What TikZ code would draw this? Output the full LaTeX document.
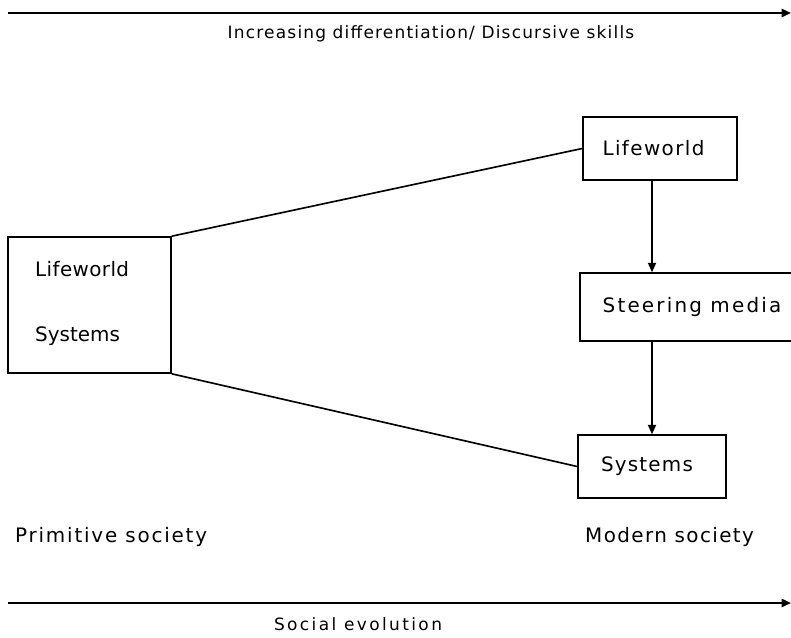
\documentclass[tikz,border=0pt]{standalone}
\usepackage{fontspec}
\setmainfont{DejaVu Sans}
\usetikzlibrary{arrows.meta}
\begin{document}
\begin{tikzpicture}[x=0.03cm,y=-0.03cm,
  box/.style={draw,line width=1.4pt,inner sep=0pt},
  lbl/.style={font={\fontsize{17}{20}\selectfont\addfontfeature{LetterSpace=#1}},inner sep=0pt},
  lbl/.default=0,
  axislbl/.style={font={\fontsize{14.5}{17}\selectfont\addfontfeature{LetterSpace=#1}},inner sep=0pt},
  axis/.style={line width=1.8pt,-{Triangle[length=8pt,width=7pt]}},
  link/.style={line width=1.4pt},
  flow/.style={line width=1.1pt,-{Triangle[length=8pt,width=7pt]}}]
\useasboundingbox[fill=white] (0,0) rectangle (791,637);

% evolution axes
\coordinate (t0) at (8,13);
\coordinate (t1) at (791,13);
\coordinate (b0) at (8,603);
\coordinate (b1) at (791,603);
\draw[axis] (t0) -- (t1);
\draw[axis] (b0) -- (b1);
\node[axislbl=7] (toplbl) at (431,34) {Increasing differentiation/ Discursive skills};
\node[axislbl=14] (botlbl) at (358,624) {Social evolution};

% primitive society
\node[box,minimum width=163*0.03cm,minimum height=136*0.03cm] (prim) at (89.5,305) {};
\node[lbl=2,anchor=west] (plw) at (35,269) {Lifeworld};
\node[lbl=0,anchor=west] (psys) at (35,336) {Systems};

% modern society
\node[box,minimum width=154*0.03cm,minimum height=63*0.03cm] (lw) at (660,148.5) {};
\node[lbl=7] (lwt) at (653.5,148.5) {Lifeworld};
\node[box,minimum width=213*0.03cm,minimum height=68*0.03cm] (sm) at (686.5,307) {};
\node[lbl=11] (smt) at (692,307) {Steering media};
\node[box,minimum width=148*0.03cm,minimum height=63*0.03cm] (sys) at (652,466.5) {};
\node[lbl=6] (syst) at (647,466.5) {Systems};

\draw[link] (prim.north east) -- (lw.west);
\draw[link] (prim.south east) -- (sys.west);
\draw[flow] (lw.south -| sys.north) -- (sm.north -| sys.north);
\draw[flow] (sm.south -| sys.north) -- (sys.north);

\node[lbl=9,anchor=west] (primlbl) at (15,537) {Primitive society};
\node[lbl=7,anchor=west] (modlbl) at (585,537) {Modern society};
\end{tikzpicture}
\end{document}
